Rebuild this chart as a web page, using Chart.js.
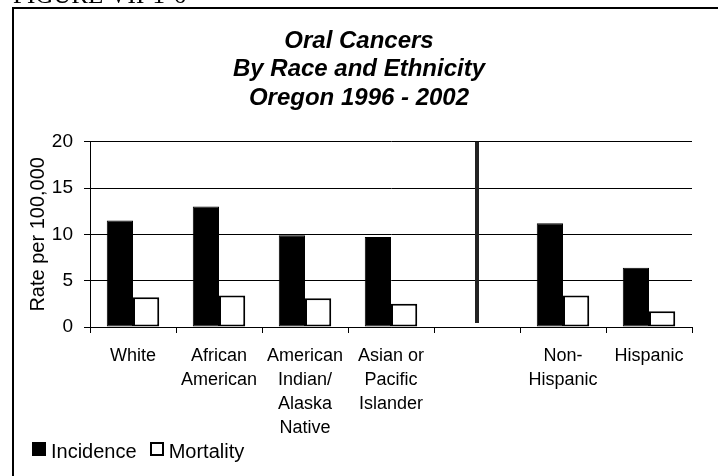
<!DOCTYPE html>
<html>
<head>
<meta charset="utf-8">
<script src="https://cdn.jsdelivr.net/npm/chart.js@4"></script>
<style>
  html, body { margin: 0; padding: 0; background: #fff; }
  #wrap { position: relative; width: 718px; height: 476px; overflow: hidden; }
  #legend { position: absolute; left: 32px; top: 441px; display: flex; align-items: flex-start;
            font-family: 'Liberation Sans', Arial, sans-serif; font-size: 20px; line-height: 20px; color: #000; }
  #legend .item { display: flex; align-items: flex-start; margin-right: 13px; }
  #legend .box { width: 14px; height: 14px; box-sizing: border-box; margin-top: 1px; margin-right: 5px; }
</style>
</head>
<body>
<div id="wrap"><canvas id="c" width="718" height="476"></canvas><div id="legend"></div></div>
<script>
const figureLabel = 'FIGURE VII-1-6';
const titleLines = ['Oral Cancers', 'By Race and Ethnicity', 'Oregon 1996 - 2002'];
const categories = [
  ['White'],
  ['African', 'American'],
  ['American', 'Indian/', 'Alaska', 'Native'],
  ['Asian or', 'Pacific', 'Islander'],
  [''],
  ['Non-', 'Hispanic'],
  ['Hispanic']
];
const incidence = [11.5, 13.0, 9.9, 9.7, null, 11.2, 6.4];
const mortality = [3.2, 3.4, 3.1, 2.5, null, 3.4, 1.7];
const seriesNames = ['Incidence', 'Mortality'];
const yAxisTitle = 'Rate per 100,000';
const yMin = 0, yMax = 20, yStep = 5;
const dividerIndex = 4;

const FONT = "'Liberation Sans', Arial, sans-serif";

const framePlugin = {
  id: 'frame',
  beforeDraw(chart) {
    const ctx = chart.ctx;
    ctx.save();
    ctx.fillStyle = '#fff';
    ctx.fillRect(0, 0, chart.width, chart.height);
    ctx.strokeStyle = '#000';
    ctx.lineWidth = 2;
    ctx.beginPath();
    ctx.moveTo(13, chart.height);
    ctx.lineTo(13, 8);
    ctx.lineTo(chart.width, 8);
    ctx.stroke();
    ctx.fillStyle = '#000';
    ctx.font = "25px 'Liberation Serif', 'Times New Roman', serif";
    ctx.textBaseline = 'alphabetic';
    ctx.textAlign = 'left';
    ctx.fillText(figureLabel, 13, 3);
    ctx.restore();
  }
};

const dividerPlugin = {
  id: 'divider',
  afterDatasetsDraw(chart) {
    const x = chart.scales.x.getPixelForValue(dividerIndex);
    const yTop = chart.scales.y.getPixelForValue(yMax);
    const yBot = chart.scales.y.getPixelForValue(yMin) - 4;
    const ctx = chart.ctx;
    ctx.save();
    ctx.strokeStyle = '#222';
    ctx.lineWidth = 4;
    ctx.beginPath();
    ctx.moveTo(x, yTop);
    ctx.lineTo(x, yBot);
    ctx.stroke();
    ctx.restore();
  }
};

const chart = new Chart(document.getElementById('c'), {
  type: 'bar',
  data: {
    labels: categories,
    datasets: [
      {
        label: seriesNames[0],
        data: incidence,
        backgroundColor: '#000',
        borderColor: '#000',
        borderWidth: 1,
        borderSkipped: false,
        categoryPercentage: 0.61,
        barPercentage: 1.0
      },
      {
        label: seriesNames[1],
        data: mortality,
        backgroundColor: '#fff',
        borderColor: '#000',
        borderWidth: 2,
        borderSkipped: false,
        categoryPercentage: 0.61,
        barPercentage: 1.0
      }
    ]
  },
  options: {
    responsive: false,
    animation: false,
    devicePixelRatio: 1,
    layout: { padding: { left: 26, right: 26, top: 27, bottom: 0 } },
    plugins: {
      title: {
        display: true,
        text: titleLines,
        color: '#000',
        font: { family: FONT, size: 24, weight: 'bold', style: 'italic', lineHeight: 1.19 },
        padding: { top: 0, bottom: 29 }
      },
      legend: { display: false },
      tooltip: { enabled: false }
    },
    scales: {
      x: {
        afterFit(scale) { scale.height = 149; },
        grid: {
          display: true,
          drawOnChartArea: false,
          drawTicks: true,
          tickLength: 6,
          color: '#000',
          offset: true
        },
        border: { display: true, color: '#000', width: 1 },
        ticks: {
          color: '#000',
          font: { family: FONT, size: 18, lineHeight: 1.333 },
          autoSkip: false,
          maxRotation: 0,
          minRotation: 0,
          padding: 11
        }
      },
      y: {
        min: yMin,
        max: yMax,
        afterFit(scale) { scale.width = 64; },
        grid: {
          color: '#000',
          lineWidth: 1,
          drawTicks: true,
          tickLength: 6
        },
        border: { display: true, color: '#000', width: 1 },
        ticks: {
          stepSize: yStep,
          color: '#000',
          font: { family: FONT, size: 19 },
          padding: 11
        },
        title: {
          display: true,
          text: yAxisTitle,
          color: '#000',
          font: { family: FONT, size: 20 },
          padding: { top: 0, bottom: 0 }
        }
      }
    }
  },
  plugins: [framePlugin, dividerPlugin]
});

// Legend built from the chart's own datasets
const legendEl = document.getElementById('legend');
chart.data.datasets.forEach(ds => {
  const item = document.createElement('div');
  item.className = 'item';
  const box = document.createElement('span');
  box.className = 'box';
  box.style.background = ds.backgroundColor;
  box.style.border = ds.borderWidth + 'px solid ' + ds.borderColor;
  const txt = document.createElement('span');
  txt.textContent = ds.label;
  item.appendChild(box);
  item.appendChild(txt);
  legendEl.appendChild(item);
});
</script>
</body>
</html>
